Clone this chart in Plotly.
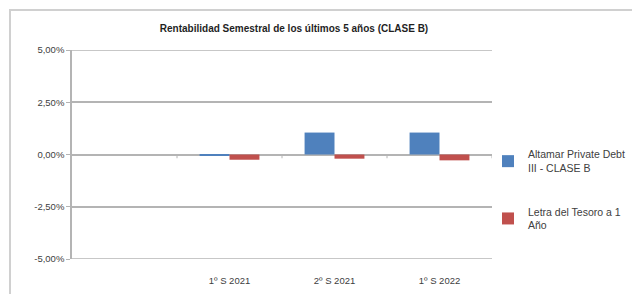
import plotly.graph_objects as go

categories = [" ", "1º S 2021", "2º S 2021", "1º S 2022"]
fund_values = [None, -0.05, 1.05, 1.05]
letra_values = [None, -0.25, -0.20, -0.28]
y_ticks = [-5, -2.5, 0, 2.5, 5]
y_tick_labels = ["-5,00%", "-2,50%", "0,00%", "2,50%", "5,00%"]
series_names = ["Altamar Private Debt<br>III - CLASE B", "Letra del Tesoro a 1<br>Año"]

fig = go.Figure()
fig.add_trace(go.Bar(x=categories, y=fund_values, name=series_names[0], legendgroup="a",
                     marker=dict(color="#4F81BD", line=dict(width=0))))
fig.add_trace(go.Bar(x=categories, y=letra_values, name=series_names[1], legendgroup="b",
                     marker=dict(color="#C0504D", line=dict(width=0))))

grid = "#B4B4B4"
shapes = [
    dict(type="rect", xref="paper", yref="paper", x0=-62/420, x1=1.5, y0=-0.3, y1=(259-10)/209,
         line=dict(color="#D0D0D0", width=2), fillcolor="rgba(0,0,0,0)", layer="below"),
]
for i in range(len(categories)):
    shapes.append(dict(type="line", xref="x", yref="y", x0=i + 0.5, x1=i + 0.5, y0=0, y1=-0.18,
                       line=dict(color=grid, width=1)))
for v in (-5, 5):
    shapes.append(dict(type="line", xref="paper", yref="y", x0=0, x1=1, y0=v, y1=v,
                       line=dict(color=grid, width=1.5)))

fig.update_layout(
    width=632, height=294,
    margin=dict(l=72, r=140, t=50, b=35, autoexpand=False),
    paper_bgcolor="white", plot_bgcolor="white",
    barmode="group", bargap=0.43, bargroupgap=0,
    title=dict(text="<b>Rentabilidad Semestral de los últimos 5 años (CLASE B)</b>",
               x=294/632, xanchor="center", y=1 - 28/294, yanchor="middle",
               font=dict(family="Liberation Sans, Arial", size=10, color="#1F1F1F")),
    font=dict(family="Liberation Sans, Arial", size=9, color="#404040"),
    xaxis=dict(type="category", showgrid=False, showline=False, ticks="", zeroline=False,
               range=[-0.5, 3.5], ticklabelstandoff=14, tickfont=dict(size=9.5, color="#404040")),
    yaxis=dict(range=[-5, 5], tickvals=y_ticks, ticktext=y_tick_labels, showgrid=True,
               gridcolor=grid, gridwidth=1.5, zeroline=True, zerolinecolor=grid, zerolinewidth=1.5,
               showline=True, linecolor=grid, linewidth=1.5, ticks="outside", ticklen=4,
               tickcolor=grid, tickfont=dict(size=9.5, color="#404040")),
    legend=dict(x=1 - 4/420, y=(259 - 141)/209, xanchor="left", yanchor="top",
                tracegroupgap=27, font=dict(size=10.5, color="#404040"), itemwidth=30,
                bgcolor="rgba(0,0,0,0)"),
    showlegend=True,
    shapes=shapes,
)
fig.write_html("out.html", post_script="document.body.style.margin='0';",
               config={"displayModeBar": False})
